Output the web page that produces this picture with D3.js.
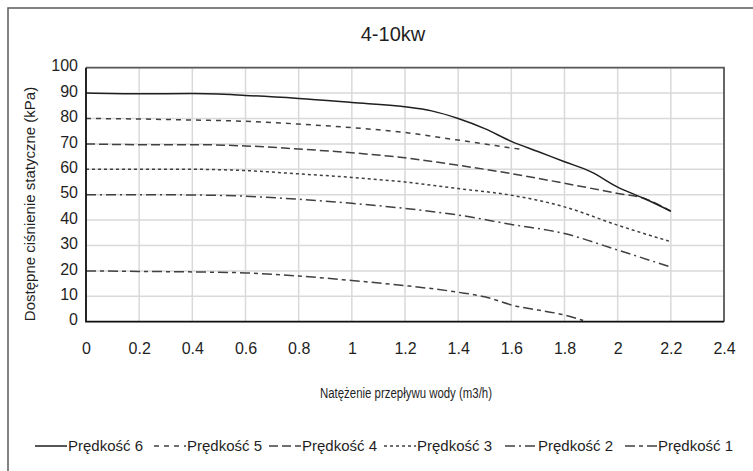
<!DOCTYPE html>
<html>
<head>
<meta charset="utf-8">
<script src="https://cdn.jsdelivr.net/npm/d3@7"></script>
<style>
  body { margin: 0; background: #fff; }
  svg { display: block; }
  text { font-family: "Liberation Sans", Arial, sans-serif; fill: #1f1f1f; }
</style>
</head>
<body>
<svg id="chart" width="753" height="471"></svg>
<script>
// Pump curves: available static pressure vs. water flow, per fan speed
const chartTitle = "4-10kw";
const xTitle = "Natężenie przepływu wody (m3/h)";
const yTitle = "Dostępne ciśnienie statyczne (kPa)";
const xTicks = [0, 0.2, 0.4, 0.6, 0.8, 1, 1.2, 1.4, 1.6, 1.8, 2, 2.2, 2.4];
const yTicks = [0, 10, 20, 30, 40, 50, 60, 70, 80, 90, 100];
const seriesNames = ["Prędkość 6", "Prędkość 5", "Prędkość 4", "Prędkość 3", "Prędkość 2", "Prędkość 1"];

const flow6 = [0, 0.2, 0.4, 0.6, 0.8, 1.0, 1.2, 1.3, 1.4, 1.5, 1.6, 1.7, 1.8, 1.9, 2.0, 2.1, 2.2];
const press6 = [90, 89.7, 89.8, 89.1, 87.9, 86.3, 84.6, 83, 80, 76, 71, 67, 63, 59, 53, 48.5, 43.5];

const flow5 = [0, 0.2, 0.4, 0.6, 0.8, 1.0, 1.2, 1.4, 1.64];
const press5 = [80, 79.8, 79.4, 78.9, 77.8, 76.4, 74.5, 71.5, 67.8];

const flow4 = [0, 0.2, 0.4, 0.6, 0.8, 1.0, 1.2, 1.4, 1.6, 1.8, 2.0, 2.1, 2.2];
const press4 = [70, 69.7, 69.7, 69.2, 68, 66.5, 64.5, 61.6, 58.3, 54.5, 50.5, 48.5, 43.5];

const flow3 = [0, 0.2, 0.4, 0.6, 0.8, 1.0, 1.2, 1.4, 1.6, 1.8, 2.0, 2.2];
const press3 = [60, 60, 60, 59.5, 58.2, 56.8, 55, 52.4, 49.8, 45.2, 38, 31.5];

const flow2 = [0, 0.2, 0.4, 0.6, 0.8, 1.0, 1.2, 1.4, 1.6, 1.8, 2.0, 2.2];
const press2 = [50, 50, 49.9, 49.4, 48.2, 46.6, 44.6, 42, 38.3, 34.7, 28.2, 21.5];

const flow1 = [0, 0.2, 0.4, 0.6, 0.8, 1.0, 1.2, 1.4, 1.5, 1.6, 1.8, 1.87];
const press1 = [20, 19.8, 19.6, 19.2, 18, 16.2, 14.2, 11.6, 9.8, 6.6, 2.6, 0.5];

const flows = [flow6, flow5, flow4, flow3, flow2, flow1];
const pressures = [press6, press5, press4, press3, press2, press1];

// line styles per series
const dashes = [null, "5,5", "9,4", "3,3", "10,4,2,4", "10,4,4,4"];
const strokes = ["#1f1f1f", "#404040", "#404040", "#404040", "#404040", "#404040"];

const svg = d3.select("#chart");
const plot = { left: 86, right: 724, top: 67.7, bottom: 321.7 };

// outer chart frame
svg.append("rect")
  .attr("x", 8).attr("y", 8).attr("width", 800).attr("height", 500)
  .attr("fill", "none").attr("stroke", "#5a5a5a").attr("stroke-width", 1.5);

const x = d3.scaleLinear().domain([0, 2.4]).range([plot.left, plot.right]);
const y = d3.scaleLinear().domain([0, 100]).range([plot.bottom, plot.top]);

// grid
const grid = svg.append("g").attr("stroke", "#d9d9d9").attr("stroke-width", 1.5);
grid.selectAll(".vx").data(xTicks).join("line")
  .attr("x1", d => x(d)).attr("x2", d => x(d))
  .attr("y1", plot.top).attr("y2", plot.bottom);
grid.selectAll(".hy").data(yTicks).join("line")
  .attr("x1", plot.left).attr("x2", plot.right)
  .attr("y1", d => y(d)).attr("y2", d => y(d));

// plot frame: grey top/right, black axes
svg.append("path")
  .attr("d", `M${plot.left},${plot.top}H${plot.right}V${plot.bottom}`)
  .attr("fill", "none").attr("stroke", "#595959").attr("stroke-width", 1.8);

// curves
const line = d3.line().x(d => x(d[0])).y(d => y(d[1])).curve(d3.curveMonotoneX);
const order = [5, 4, 3, 2, 1, 0];
order.forEach(i => {
  const pts = d3.zip(flows[i], pressures[i]);
  svg.append("path")
    .attr("d", line(pts))
    .attr("fill", "none")
    .attr("stroke", strokes[i])
    .attr("stroke-width", 1.5)
    .attr("stroke-dasharray", dashes[i]);
});

svg.append("path")
  .attr("d", `M${plot.left},${plot.top}V${plot.bottom}H${plot.right}`)
  .attr("fill", "none").attr("stroke", "#111").attr("stroke-width", 1.8);

// axes
const xAxis = d3.axisBottom(x).tickValues(xTicks).tickSize(0).tickPadding(21)
  .tickFormat(d3.format("~g"));
const gx = svg.append("g").attr("transform", `translate(0,${plot.bottom})`).call(xAxis);
const yAxis = d3.axisLeft(y).tickValues(yTicks).tickSize(0).tickPadding(8);
const gy = svg.append("g").attr("transform", `translate(${plot.left},0)`).call(yAxis);
[gx, gy].forEach(g => {
  g.select(".domain").remove();
  g.selectAll("text").attr("font-size", 16).attr("fill", "#1f1f1f")
    .attr("font-family", '"Liberation Sans", Arial, sans-serif');
});
gy.selectAll("text").attr("dy", "0.2em");

// titles
svg.append("text").attr("x", 393).attr("y", 41).attr("text-anchor", "middle")
  .attr("font-size", 20).text(chartTitle);
svg.append("text").attr("x", 406).attr("y", 398).attr("text-anchor", "middle")
  .attr("font-size", 14)
  .attr("textLength", 172).attr("lengthAdjust", "spacingAndGlyphs")
  .text(xTitle);
svg.append("text")
  .attr("transform", `translate(35,204) rotate(-90)`)
  .attr("text-anchor", "middle").attr("font-size", 15).text(yTitle);

// legend
const legendTextX = [68, 187, 302, 417, 538, 658];
const legendY = 446;
const lg = svg.append("g");
seriesNames.forEach((name, i) => {
  lg.append("line")
    .attr("x1", legendTextX[i] - 33).attr("x2", legendTextX[i] - 1)
    .attr("y1", legendY).attr("y2", legendY)
    .attr("stroke", strokes[i]).attr("stroke-width", 1.5)
    .attr("stroke-dasharray", dashes[i]);
  lg.append("text").attr("x", legendTextX[i]).attr("y", legendY + 5)
    .attr("font-size", 15).text(name);
});
</script>
</body>
</html>
